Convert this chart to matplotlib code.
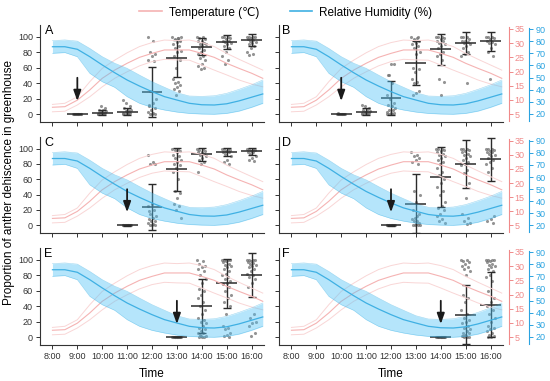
import matplotlib
matplotlib.use('Agg')
import matplotlib.pyplot as plt
import numpy as np
from matplotlib.lines import Line2D

plt.rcParams['font.family'] = ['Liberation Sans', 'DejaVu Sans']

# ---------------- data ----------------
hour_labels = ['8:00', '9:00', '10:00', '11:00', '12:00', '13:00', '14:00', '15:00', '16:00']

curve_t = [0, 0.5, 1, 1.5, 2, 2.5, 3, 3.5, 4, 4.5, 5, 5.5, 6, 6.5, 7, 7.5, 8, 8.45]
temp_mean = [7.4, 7.6, 9.9, 13.5, 17.6, 20.5, 22.9, 25.0, 26.4, 27.6, 27.6, 27.6, 26.4, 25.0, 22.9, 21.1, 19.4, 17.6]
temp_upper = [8.4, 8.8, 11.1, 16.4, 21.1, 24.0, 26.6, 28.8, 30.2, 31.1, 30.9, 31.1, 30.2, 28.8, 26.4, 24.3, 22.3, 20.5]
temp_lower = [5.8, 6.0, 8.2, 11.1, 14.6, 17.6, 19.9, 22.0, 23.5, 24.3, 24.1, 24.0, 22.3, 20.5, 18.8, 17.0, 15.6, 14.6]
hum_mean = [75.4, 75.4, 73.3, 67.2, 60.4, 54.0, 48.0, 43.0, 38.4, 34.3, 31.5, 28.8, 27.6, 27.4, 28.4, 30.8, 33.8, 36.5]
hum_upper = [80.4, 81.0, 80.0, 74.0, 67.2, 61.8, 57.6, 52.0, 46.6, 42.0, 37.5, 34.8, 34.5, 35.0, 37.0, 40.3, 44.0, 48.0]
hum_lower = [70.0, 70.6, 67.2, 53.5, 46.6, 42.0, 34.3, 28.8, 25.5, 23.3, 21.6, 20.5, 20.0, 19.8, 20.5, 22.4, 25.5, 28.8]

panel_names = ['A', 'B', 'C', 'D', 'E', 'F']

times_A = [1, 2, 3, 4, 5, 6, 7, 8]
means_A = [0, 2, 3.4, 29, 72, 87, 93.3, 95.7]
sds_A = [0.3, 3, 4.4, 32.5, 24, 11, 9.3, 7.3]
points_A = [
    [0, 0, 0, 0, 0, 0, 0, 0, 0, 0],
    [0, 0, 0, 1, 1, 2, 2, 3, 4, 5, 6, 8, 10, 0, 0],
    [0, 0, 0, 1, 2, 2, 3, 4, 5, 6, 8, 10, 14, 18, 0],
    [100, 95, 80, 78, 75, 70, 68, 30, 20, 15, 10, 8, 5, 3, 2, 0, 0, 0, 12],
    [100, 98, 97, 95, 93, 90, 88, 85, 82, 80, 75, 70, 60, 45, 42, 40, 38, 35, 32, 30, 25, 100, 98],
    [100, 100, 98, 97, 95, 95, 92, 90, 90, 88, 85, 83, 80, 78, 75, 72, 70, 65, 62, 60, 58],
    [100, 100, 100, 98, 97, 95, 95, 93, 92, 90, 88, 85, 80, 75, 70, 65],
    [100, 100, 100, 99, 98, 97, 96, 95, 93, 92, 90, 88, 85, 80, 78, 76],
]

times_B = [2, 3, 4, 5, 6, 7, 8]
means_B = [0, 3.4, 20.7, 66, 83.6, 92, 93.9]
sds_B = [0.3, 4, 21.5, 28, 19.8, 14, 12.5]
points_B = [
    [0, 0, 0, 0, 0, 0, 0, 0, 0, 0, 2],
    [0, 0, 0, 1, 1, 2, 2, 3, 4, 5, 6, 8, 10, 12],
    [0, 0, 0, 1, 2, 3, 5, 6, 8, 10, 12, 15, 20, 25, 40, 50, 65, 65, 50],
    [100, 98, 97, 95, 92, 90, 88, 85, 80, 78, 60, 58, 55, 45, 42, 40, 30, 28, 25, 100, 95],
    [100, 100, 99, 98, 97, 95, 95, 92, 90, 88, 85, 80, 78, 75, 70, 45, 42, 25],
    [100, 100, 99, 97, 95, 95, 93, 92, 90, 88, 85, 80, 78, 75, 40],
    [100, 100, 99, 98, 97, 95, 93, 92, 90, 85, 80, 75, 45],
]

times_C = [3, 4, 5, 6, 7, 8]
means_C = [0, 23.6, 73, 92.5, 95.7, 96.6]
sds_C = [0.3, 29.6, 28, 8.5, 5.5, 4.5]
points_C = [
    [0, 0, 0, 0, 0, 0, 0, 0, 0, 0],
    [92, 82, 80, 80, 28, 25, 20, 15, 12, 10, 8, 6, 5, 3, 2, 0, 0, 1, 18],
    [100, 100, 98, 97, 95, 92, 90, 88, 85, 82, 80, 78, 75, 70, 60, 45, 42, 35, 28, 25, 20, 10],
    [100, 100, 98, 97, 95, 95, 93, 92, 90, 88, 85, 82, 80, 70],
    [100, 100, 99, 98, 97, 96, 95, 93, 90, 85, 82, 80],
    [100, 100, 99, 98, 97, 96, 95, 93, 90, 88, 85, 84],
]

times_D = [4, 5, 6, 7, 8]
means_D = [0, 28.3, 63.5, 79.6, 85.8]
sds_D = [0.3, 38, 39, 31, 28]
points_D = [
    [0, 0, 0, 0, 0, 0, 0, 0, 0, 0],
    [95, 92, 90, 88, 85, 82, 80, 45, 40, 30, 20, 15, 10, 8, 6, 5, 3, 2, 0, 0, 0, 1, 12],
    [100, 100, 100, 98, 97, 95, 93, 92, 90, 88, 85, 82, 80, 75, 70, 65, 60, 55, 50, 45, 40, 30, 25, 22, 20, 15, 12, 8, 5, 3],
    [100, 100, 99, 98, 97, 95, 93, 92, 90, 88, 85, 82, 80, 78, 72, 68, 55, 35, 15, 10, 5, 3, 2],
    [100, 100, 99, 98, 97, 96, 95, 93, 92, 90, 88, 85, 82, 80, 75, 70, 12, 8, 5, 3],
]

times_E = [5, 6, 7, 8]
means_E = [0, 40.3, 69.4, 80.6]
sds_E = [0.3, 35, 32, 28.5]
points_E = [
    [0, 0, 0, 0, 0, 0, 0, 0, 0, 0],
    [100, 98, 95, 92, 90, 88, 85, 80, 75, 70, 62, 60, 55, 50, 45, 40, 35, 30, 25, 22, 20, 18, 15, 12, 10, 8, 6, 5, 3, 2, 0, 0, 0, 1],
    [100, 100, 100, 99, 98, 97, 95, 93, 92, 90, 88, 85, 82, 80, 78, 75, 72, 70, 68, 65, 60, 55, 50, 45, 40, 30, 15, 12, 10, 5, 3, 2, 0],
    [100, 100, 100, 99, 98, 97, 96, 95, 93, 92, 90, 88, 85, 82, 80, 78, 75, 70, 65, 30, 25, 20, 18, 15, 5, 2],
]

times_F = [6, 7, 8]
means_F = [0, 29, 42]
sds_F = [0.3, 37.7, 42]
points_F = [
    [0, 0, 0, 0, 0, 0, 0, 0, 0, 0],
    [100, 100, 98, 97, 95, 92, 90, 88, 85, 80, 55, 50, 45, 35, 30, 25, 22, 20, 18, 15, 12, 10, 8, 6, 5, 3, 2, 0, 0, 0, 1, 2],
    [100, 100, 100, 99, 98, 97, 95, 93, 92, 90, 88, 85, 80, 78, 72, 60, 50, 45, 40, 35, 30, 25, 20, 15, 12, 10, 8, 5, 3, 2, 0, 0],
]

panels = [
    (times_A, means_A, sds_A, points_A),
    (times_B, means_B, sds_B, points_B),
    (times_C, means_C, sds_C, points_C),
    (times_D, means_D, sds_D, points_D),
    (times_E, means_E, sds_E, points_E),
    (times_F, means_F, sds_F, points_F),
]

# ---------------- style ----------------
RED_MEAN = '#f5b3b3'
RED_BAND = '#f9d6d6'
RED_AX = '#f08a8a'
BLUE_FILL = '#4fc3f7'
BLUE_LINE = '#3fb0e3'
BLUE_AX = '#2aa3e0'
DARK = '#2b2b2b'

fig = plt.figure(figsize=(5.5, 3.81), dpi=100)

W, H = 550.0, 381.0
col_left = [40, 279]
col_width = [224, 224]
row_top = [25, 137, 248]
row_h = [97, 96, 97]

for k, name in enumerate(panel_names):
    r, c = k // 2, k % 2
    rect = [col_left[c] / W, 1 - (row_top[r] + row_h[r]) / H, col_width[c] / W, row_h[r] / H]
    ax = fig.add_axes(rect)
    axT = ax.twinx()
    axH = ax.twinx()

    times, means, sds, pts = panels[k]

    # dots
    for t, vals in zip(times, pts):
        n = len(vals)
        offs = np.array([((i * 0.618034) % 1.0 - 0.5) * 0.36 for i in range(n)])
        ax.scatter(t + offs, vals, s=5, color='#707070', alpha=0.75, linewidths=0, zorder=2)
    # mean +- sd
    for t, m, s in zip(times, means, sds):
        ax.plot([t - 0.42, t + 0.42], [m, m], color=DARK, lw=1.1, zorder=3, solid_capstyle='butt')
    ax.errorbar(times, means, yerr=sds, fmt='none', ecolor=DARK, elinewidth=1.0,
                capsize=3.2, capthick=1.0, zorder=3)

    ax.set_xlim(-0.5, 8.5)
    ax.set_ylim(-10, 115)
    ax.set_xticks(range(9))
    ax.set_yticks([0, 20, 40, 60, 80, 100])
    for sp in ['top', 'right']:
        ax.spines[sp].set_visible(False)
    for sp in ['left', 'bottom']:
        ax.spines[sp].set_linewidth(0.8)
        ax.spines[sp].set_color('#333333')
    ax.tick_params(axis='both', direction='out', length=3, width=0.7, labelsize=6.5,
                   colors='#333333', pad=2)
    if r == 2:
        ax.set_xticklabels(hour_labels)
        ax.set_xlabel('Time', fontsize=8.5, labelpad=5)
    else:
        ax.set_xticklabels([])
    if c == 1:
        ax.set_yticklabels([])

    # temperature curves
    axT.plot(curve_t, temp_upper, color=RED_BAND, lw=0.7)
    axT.plot(curve_t, temp_lower, color=RED_BAND, lw=0.7)
    axT.plot(curve_t, temp_mean, color=RED_MEAN, lw=0.8)
    axT.set_ylim(2.2, 36.4)

    # humidity curves
    axH.fill_between(curve_t, hum_lower, hum_upper, color=BLUE_FILL, alpha=0.42, lw=0)
    axH.plot(curve_t, hum_upper, color=BLUE_LINE, lw=0.4, alpha=0.5)
    axH.plot(curve_t, hum_lower, color=BLUE_LINE, lw=0.4, alpha=0.5)
    axH.plot(curve_t, hum_mean, color=BLUE_LINE, lw=0.9)
    axH.set_ylim(13.4, 93.3)

    # arrow at first dehiscence (drawn on top layer, in main-axis data units)
    axH.annotate('', xy=(times[0], 17), xytext=(times[0], 47),
                 xycoords=ax.transData, textcoords=ax.transData,
                 arrowprops=dict(arrowstyle='-|>,head_length=0.7,head_width=0.25',
                                 color='#1a1a1a', lw=1.3, mutation_scale=9, shrinkA=0, shrinkB=0),
                 zorder=5)
    axH.text(0.02 if c == 0 else 0.015, 0.995, name, transform=ax.transAxes,
             ha='left', va='top', fontsize=9, zorder=6)

    for a in (axT, axH):
        for sp in ['top', 'left', 'bottom']:
            a.spines[sp].set_visible(False)

    if c == 1:
        axT.spines['right'].set_position(('outward', 4))
        axT.spines['right'].set_color(RED_AX)
        axT.spines['right'].set_linewidth(0.8)
        axT.spines['right'].set_bounds(2.6, 35.6)
        axT.set_yticks([5, 10, 15, 20, 25, 30, 35])
        axT.tick_params(axis='y', colors=RED_AX, labelsize=6.5, length=3, width=0.7, pad=1.5)
        axH.spines['right'].set_position(('outward', 19))
        axH.spines['right'].set_color(BLUE_AX)
        axH.spines['right'].set_linewidth(0.8)
        axH.spines['right'].set_bounds(14.2, 90.8)
        axH.set_yticks([20, 30, 40, 50, 60, 70, 80, 90])
        axH.tick_params(axis='y', colors=BLUE_AX, labelsize=6.5, length=3, width=0.7, pad=1.5)
    else:
        axT.spines['right'].set_visible(False)
        axH.spines['right'].set_visible(False)
        axT.set_yticks([])
        axH.set_yticks([])

fig.text(0.016, 0.52, 'Proportion of anther dehiscence in greenhouse', rotation=90,
         ha='center', va='center', fontsize=8.5)

handles = [Line2D([0], [0], color=RED_MEAN, lw=1.2),
           Line2D([0], [0], color=BLUE_LINE, lw=1.2)]
fig.legend(handles, ['Temperature (\u2103)', 'Relative Humidity (%)'],
           loc='center', bbox_to_anchor=(0.52, 0.967), ncol=2, frameon=False,
           fontsize=8.5, handlelength=1.9, columnspacing=2.6, handletextpad=0.6)

fig.savefig('out.png', dpi=100)
